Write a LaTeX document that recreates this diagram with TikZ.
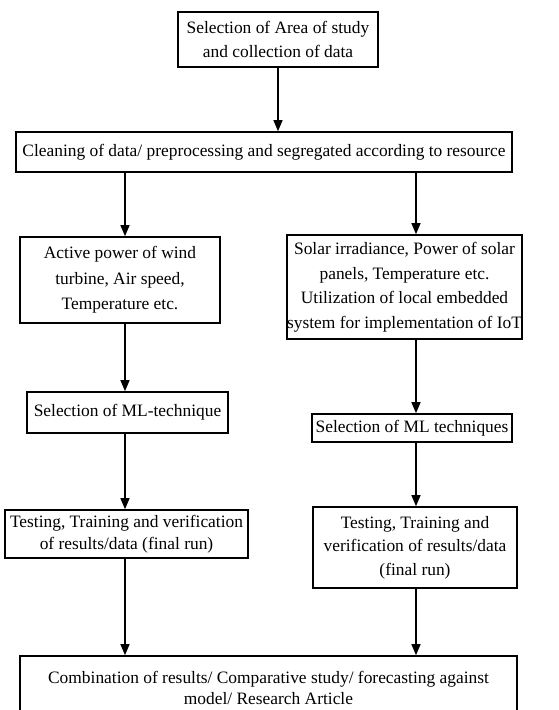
\documentclass[tikz,border=0pt]{standalone}
\usepackage{fontspec}
\setmainfont{Liberation Serif}
\usetikzlibrary{arrows.meta}
\begin{document}
\begin{tikzpicture}[x=1pt, y=-1pt, >={Triangle[length=11pt,width=9pt]},
  stepbox/.style={draw, line width=1.6pt, rectangle, align=center, inner sep=0pt,
    font=\fontsize{17.4}{23.5}\selectfont},
  flow/.style={->, line width=1.3pt}]
\clip (0,0) rectangle (559,710);
\coordinate (colL) at (125,0);
\coordinate (colR) at (416,0);
\node[stepbox, minimum width=200pt, minimum height=55pt] (area) at (278,39.5) {Selection of Area of study\\and collection of data};
\node[stepbox, minimum width=496pt, minimum height=40pt] (clean) at (264,152) {Cleaning of data/ preprocessing and segregated according to resource};
\node[stepbox, minimum width=200pt, minimum height=86pt, font=\fontsize{17.4}{25.5}\selectfont] (wind) at (120,280) {Active power of wind\\turbine, Air speed,\\Temperature etc.};
\node[stepbox, minimum width=235pt, minimum height=104pt, font=\fontsize{17.4}{24.5}\selectfont] (solar) at (404.5,287) {Solar irradiance, Power of solar\\panels, Temperature etc.\\Utilization of local embedded\\system for implementation of IoT};
\node[stepbox, minimum width=201pt, minimum height=41pt] (mlwind) at (127.5,412.5) {Selection of ML-technique};
\node[stepbox, minimum width=200pt, minimum height=28pt] (mlsolar) at (412,428) {Selection of ML techniques};
\node[stepbox, minimum width=243pt, minimum height=48pt, font=\fontsize{17.4}{22}\selectfont] (testwind) at (126.5,534) {Testing, Training and verification\\of results/data (final run)};
\node[stepbox, minimum width=204pt, minimum height=81pt] (testsolar) at (415,547.5) {Testing, Training and\\verification of results/data\\(final run)};
\node[stepbox, minimum width=497pt, minimum height=64pt, font=\fontsize{17.4}{21.5}\selectfont] (combine) at (268.5,688) {Combination of results/ Comparative study/ forecasting against\\model/ Research Article};
\draw[flow] (area) -- (clean.north -| area);
\draw[flow] (clean.south -| colL) -- (wind.north -| colL);
\draw[flow] (clean.south -| colR) -- (solar.north -| colR);
\draw[flow] (wind.south -| colL) -- (mlwind.north -| colL);
\draw[flow] (solar.south -| colR) -- (mlsolar.north -| colR);
\draw[flow] (mlwind.south -| colL) -- (testwind.north -| colL);
\draw[flow] (mlsolar.south -| colR) -- (testsolar.north -| colR);
\draw[flow] (testwind.south -| colL) -- (combine.north -| colL);
\draw[flow] (testsolar.south -| colR) -- (combine.north -| colR);
\end{tikzpicture}
\end{document}
